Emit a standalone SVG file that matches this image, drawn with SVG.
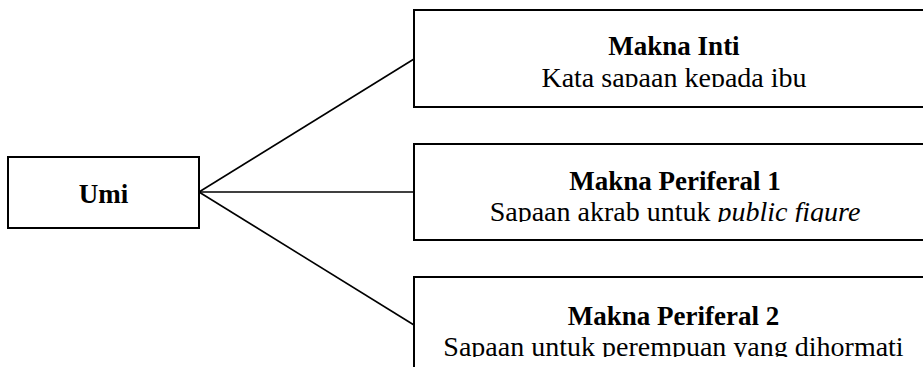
<svg xmlns="http://www.w3.org/2000/svg" width="923" height="367" viewBox="0 0 923 367">
  <style>
    .box { fill: #fff; stroke: #000; stroke-width: 2; }
    .conn { stroke: #000; stroke-width: 1.6; fill: none; }
    .title { font-family: "Liberation Serif", "Times New Roman", serif; font-weight: bold; font-size: 27px; fill: #000; text-anchor: middle; }
    .sub { font-family: "Liberation Serif", "Times New Roman", serif; font-size: 28px; fill: #000; text-anchor: middle; }
  </style>
  <defs>
    <clipPath id="c1"><rect x="414" y="10" width="520" height="77"/></clipPath>
    <clipPath id="c2"><rect x="414" y="144" width="520" height="78"/></clipPath>
    <clipPath id="c3"><rect x="414" y="277" width="520" height="80"/></clipPath>
  </defs>
  <rect width="923" height="367" fill="#fff"/>
  <g id="connectors">
    <line class="conn" x1="199" y1="192" x2="414" y2="59"/>
    <line class="conn" x1="199" y1="192" x2="414" y2="192"/>
    <line class="conn" x1="199" y1="192" x2="414" y2="325"/>
  </g>
  <g id="umi">
    <rect class="box" x="8" y="157" width="191" height="71"/>
    <text class="title" x="103.5" y="203">Umi</text>
  </g>
  <g id="makna-inti">
    <rect class="box" x="414" y="10" width="530" height="97"/>
    <text class="title" x="674" y="55">Makna Inti</text>
    <text class="sub" x="674" y="87" clip-path="url(#c1)">Kata sapaan kepada ibu</text>
  </g>
  <g id="makna-periferal-1">
    <rect class="box" x="414" y="144" width="530" height="96"/>
    <text class="title" x="675" y="190">Makna Periferal 1</text>
    <text class="sub" x="675" y="221" clip-path="url(#c2)">Sapaan akrab untuk <tspan font-style="italic">public figure</tspan></text>
  </g>
  <g id="makna-periferal-2">
    <rect class="box" x="414" y="277" width="530" height="110"/>
    <text class="title" x="673.5" y="325">Makna Periferal 2</text>
    <text class="sub" x="673.5" y="356" font-size="29.5" clip-path="url(#c3)">Sapaan untuk perempuan yang dihormati</text>
  </g>
</svg>
